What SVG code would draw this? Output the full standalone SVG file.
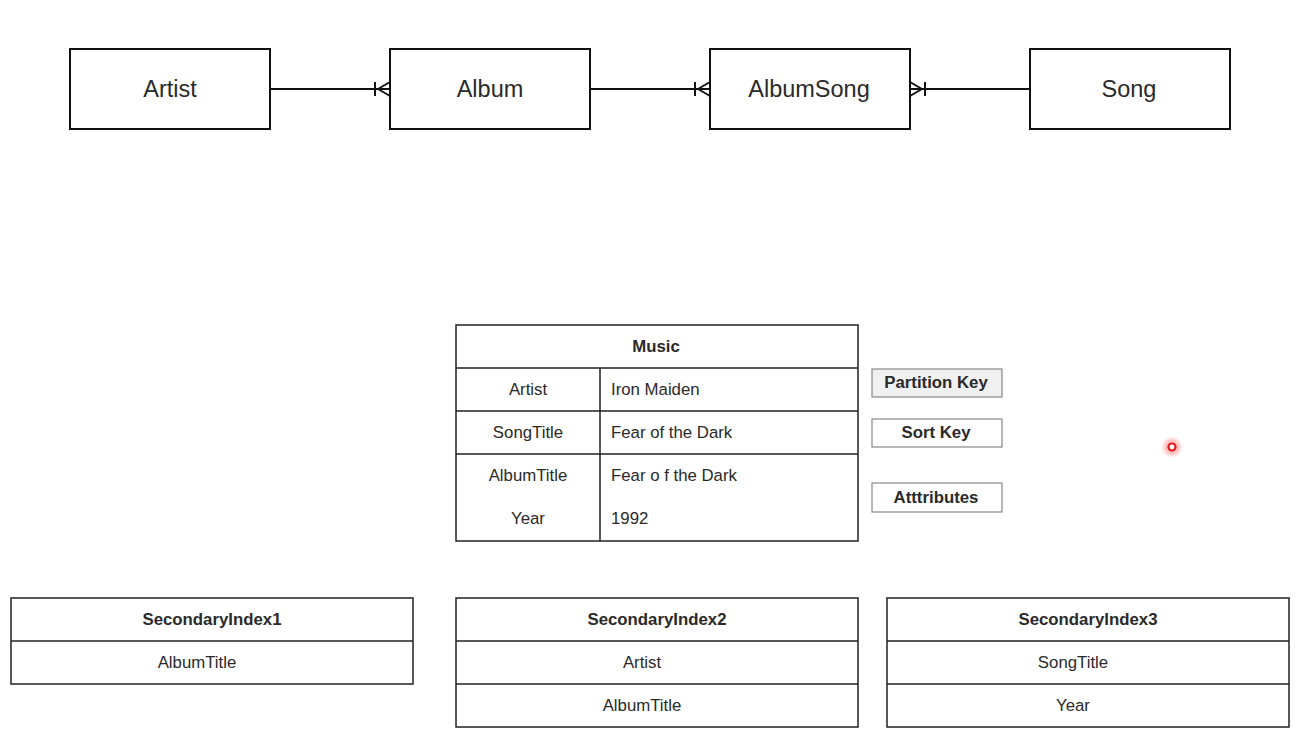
<svg xmlns="http://www.w3.org/2000/svg" width="1301" height="745" viewBox="0 0 1301 745">
<style>
.ent{fill:#fff;stroke:#111;stroke-width:2}
.et{font-family:"Liberation Sans",Arial,sans-serif;font-size:23.5px;fill:#2a2a2a;text-anchor:middle;dominant-baseline:central}
.tb{fill:#fff;stroke:#222;stroke-width:1.5}
.ln{stroke:#222;stroke-width:1.5;fill:none}
.tt{font-family:"Liberation Sans",Arial,sans-serif;font-size:16.8px;fill:#2a2a2a;dominant-baseline:central}
.c{text-anchor:middle}
.b{font-weight:bold}
.key{fill:#fff;stroke:#888;stroke-width:1.2}
.con{stroke:#111;stroke-width:2;fill:none}
</style>
<defs>
<radialGradient id="glow">
<stop offset="0" stop-color="#ff2020" stop-opacity="0.6"/>
<stop offset="1" stop-color="#ff2020" stop-opacity="0"/>
</radialGradient>
</defs>
<rect width="1301" height="745" fill="#fff"/>
<g id="connectors">
<path class="con" d="M270 89H390M375 82V96M378 89L390 82M378 89L390 96"/>
<path class="con" d="M590 89H710M695 82V96M698 89L710 82M698 89L710 96"/>
<path class="con" d="M910 89H1030M925 82V96M922 89L910 82M922 89L910 96"/>
</g>
<g id="artist"><rect class="ent" x="70" y="49" width="200" height="80"/><text class="et" x="170" y="89">Artist</text></g>
<g id="album"><rect class="ent" x="390" y="49" width="200" height="80"/><text class="et" x="490" y="89">Album</text></g>
<g id="albumsong"><rect class="ent" x="710" y="49" width="200" height="80"/><text class="et" x="809" y="89">AlbumSong</text></g>
<g id="song"><rect class="ent" x="1030" y="49" width="200" height="80"/><text class="et" x="1129" y="89">Song</text></g>
<g id="music">
<rect class="tb" x="456" y="325" width="402" height="216"/>
<path class="ln" d="M456 368H858M456 411H858M456 454H858M600 368V541"/>
<text class="tt c b" x="656" y="346">Music</text>
<text class="tt c" x="528" y="389">Artist</text>
<text class="tt" x="611" y="389">Iron Maiden</text>
<text class="tt c" x="528" y="432">SongTitle</text>
<text class="tt" x="611" y="432">Fear of the Dark</text>
<text class="tt c" x="528" y="475">AlbumTitle</text>
<text class="tt" x="611" y="475">Fear o f the Dark</text>
<text class="tt c" x="528" y="518">Year</text>
<text class="tt" x="611" y="518">1992</text>
</g>
<g id="partition-key"><rect class="key" x="872" y="369" width="130" height="28" style="fill:#f0f0f0"/><text class="tt c b" x="936" y="382">Partition Key</text></g>
<g id="sort-key"><rect class="key" x="872" y="419" width="130" height="28"/><text class="tt c b" x="936" y="432">Sort Key</text></g>
<g id="attributes"><rect class="key" x="872" y="483" width="130" height="29"/><text class="tt c b" x="936" y="497">Atttributes</text></g>
<g id="cursor"><circle cx="1172" cy="447" r="11" fill="url(#glow)"/><circle cx="1172" cy="447" r="3.5" fill="#fff" stroke="#e02020" stroke-width="2.2"/></g>
<g id="secondary1">
<rect class="tb" x="11" y="598" width="402" height="86"/>
<path class="ln" d="M11 641H413"/>
<text class="tt c b" x="212" y="619">SecondaryIndex1</text>
<text class="tt c" x="197" y="662">AlbumTitle</text>
</g>
<g id="secondary2">
<rect class="tb" x="456" y="598" width="402" height="129"/>
<path class="ln" d="M456 641H858M456 684H858"/>
<text class="tt c b" x="657" y="619">SecondaryIndex2</text>
<text class="tt c" x="642" y="662">Artist</text>
<text class="tt c" x="642" y="705">AlbumTitle</text>
</g>
<g id="secondary3">
<rect class="tb" x="887" y="598" width="402" height="129"/>
<path class="ln" d="M887 641H1289M887 684H1289"/>
<text class="tt c b" x="1088" y="619">SecondaryIndex3</text>
<text class="tt c" x="1073" y="662">SongTitle</text>
<text class="tt c" x="1073" y="705">Year</text>
</g>
</svg>
